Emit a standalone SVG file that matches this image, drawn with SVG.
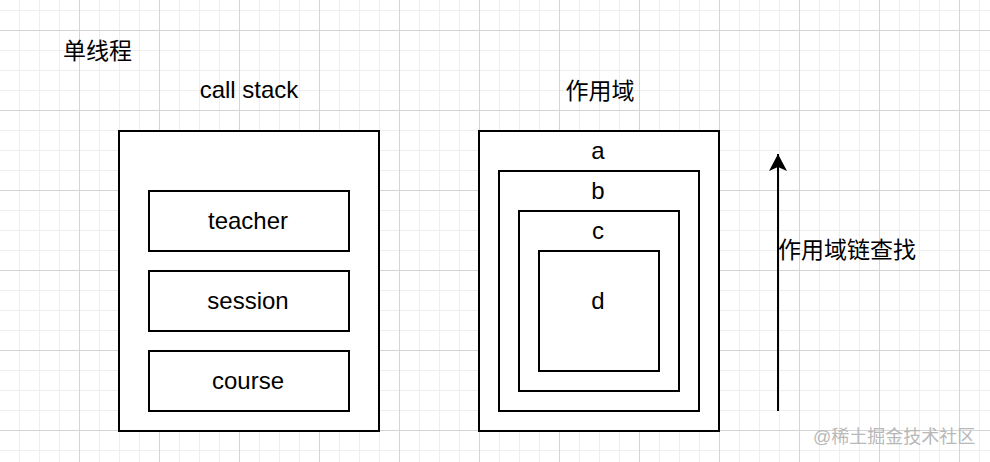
<svg xmlns="http://www.w3.org/2000/svg" width="990" height="462" viewBox="0 0 990 462">
<style>
.box{fill:#fff;stroke:#000;stroke-width:2}
.t{font-family:"Liberation Sans",Arial,Helvetica,sans-serif;font-size:24px;fill:#000;text-anchor:middle}
.cjk{font-family:"Liberation Sans","Noto Sans CJK SC",sans-serif;font-size:23px;fill:#000;dominant-baseline:central}
.wm{font-family:"Liberation Sans","Noto Sans CJK SC",sans-serif;font-size:18px;fill:#b8b8b8}
.edge{stroke:#000;stroke-width:2;fill:none}
</style>
<defs>
<pattern id="minor" width="20" height="20" patternUnits="userSpaceOnUse" x="19" y="10">
<path d="M0.5 0V20M0 0.5H20" stroke="#eeeeee" stroke-width="1" fill="none"/>
</pattern>
<pattern id="major" width="80" height="80" patternUnits="userSpaceOnUse" x="79" y="30">
<path d="M0.5 0V80M0 0.5H80" stroke="#d4d4d4" stroke-width="1" fill="none"/>
</pattern>
<marker id="arrow" viewBox="0 0 20 20" refX="18" refY="10" markerWidth="20" markerHeight="20" markerUnits="userSpaceOnUse" orient="auto">
<path d="M18 10L1 1L5 10L1 19Z" fill="#000"/>
</marker>
</defs>
<rect width="990" height="462" fill="#fff"/>
<rect width="990" height="462" fill="url(#minor)"/>
<rect width="990" height="462" fill="url(#major)"/>

<g id="title"><text class="cjk" x="63" y="50.5">单线程</text></g>
<g id="callstack-label"><text class="t" x="249" y="98">call stack</text></g>
<g id="scope-label"><text class="cjk" x="600" y="91" text-anchor="middle">作用域</text></g>

<g id="callstack"><rect class="box" x="119" y="131" width="260" height="300"/></g>
<g id="teacher"><rect class="box" x="149" y="191" width="200" height="60"/><text class="t" x="248" y="229">teacher</text></g>
<g id="session"><rect class="box" x="149" y="271" width="200" height="60"/><text class="t" x="248" y="309">session</text></g>
<g id="course"><rect class="box" x="149" y="351" width="200" height="60"/><text class="t" x="248" y="389">course</text></g>

<g id="scope-a"><rect class="box" x="479" y="131" width="240" height="300"/><text class="t" x="598" y="159">a</text></g>
<g id="scope-b"><rect class="box" x="499" y="171" width="200" height="240"/><text class="t" x="598" y="199">b</text></g>
<g id="scope-c"><rect class="box" x="519" y="211" width="160" height="180"/><text class="t" x="598" y="239">c</text></g>
<g id="scope-d"><rect class="box" x="539" y="251" width="120" height="120"/><text class="t" x="598" y="309">d</text></g>

<g id="connectors"><path class="edge" d="M778 411V154" marker-end="url(#arrow)"/></g>
<g id="chain-label"><text class="cjk" x="778" y="250">作用域链查找</text></g>
<g id="watermark"><text class="wm" x="813" y="443">@稀土掘金技术社区</text></g>
</svg>
